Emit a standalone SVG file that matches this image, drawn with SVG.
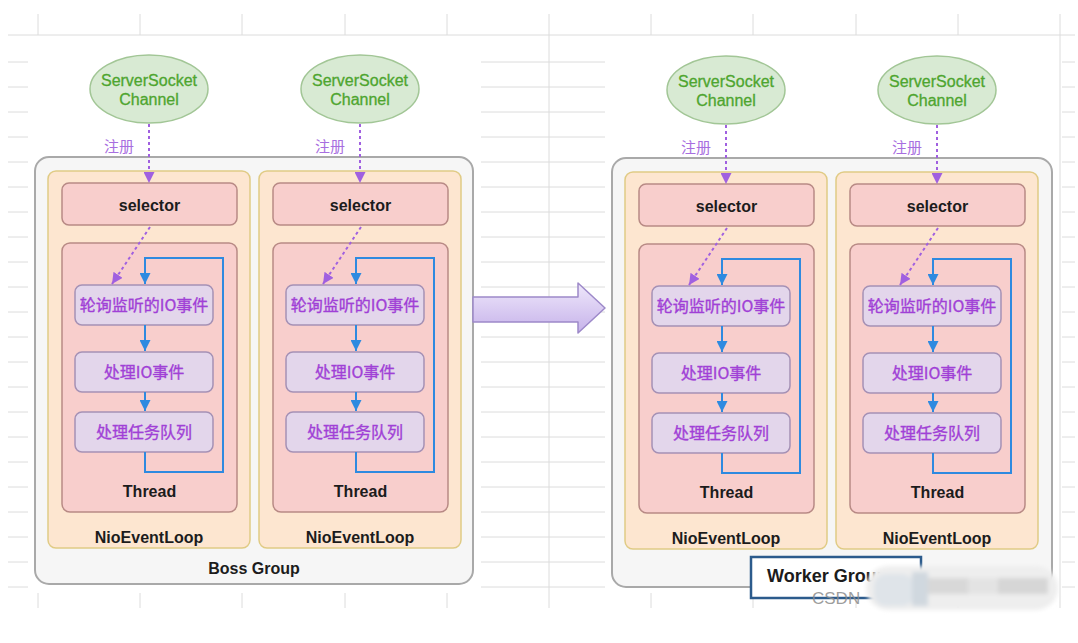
<svg xmlns="http://www.w3.org/2000/svg" width="1078" height="643" viewBox="0 0 1078 643">
<defs>
<style>
.grid{stroke:#dcdcdc;stroke-width:1;fill:none}
.grp{fill:#f6f6f6;stroke:#a9a9a9;stroke-width:2}
.nel{fill:#fde6d0;stroke:#e0cb85;stroke-width:1.5}
.red{fill:#f8cecc;stroke:#b88a85;stroke-width:1.5}
.pur{fill:#e3d6eb;stroke:#a591b5;stroke-width:1.5}
.ell{fill:#d8ead3;stroke:#a2c696;stroke-width:1.5}
.tg{font-family:"Liberation Sans",Arial,sans-serif;font-size:16px;fill:#4ea52f;stroke:#4ea52f;stroke-width:0.3;text-anchor:middle}
.tb{font-family:"Liberation Sans",Arial,sans-serif;font-size:16px;font-weight:bold;fill:#1c1c1c;text-anchor:middle}
.tp{font-family:"Noto Sans CJK SC",sans-serif;font-size:16px;fill:#a040d6;stroke:#a040d6;stroke-width:0.35;text-anchor:middle}
.tr{font-family:"Noto Sans CJK SC",sans-serif;font-size:15px;fill:#a86ee0;text-anchor:middle}
.blue{stroke:#2e8ae0;stroke-width:2;fill:none}
.dash{stroke:#a060e0;stroke-width:2;stroke-dasharray:3 3;fill:none}
</style>
<marker id="ab" viewBox="0 0 10 10" refX="10" refY="5" markerWidth="11" markerHeight="11" markerUnits="userSpaceOnUse" orient="auto">
<path d="M0,0 L10,5 L0,10 z" fill="#2e8ae0"/>
</marker>
<marker id="ap" viewBox="0 0 10 10" refX="10" refY="5" markerWidth="11" markerHeight="11" markerUnits="userSpaceOnUse" orient="auto">
<path d="M0,0 L10,5 L0,10 z" fill="#a060e0"/>
</marker>
<linearGradient id="arrowGrad" x1="0" y1="0" x2="0" y2="1">
<stop offset="0" stop-color="#efe8fb"/>
<stop offset="1" stop-color="#c6b2ea"/>
</linearGradient>
<filter id="blur" x="-10%" y="-30%" width="120%" height="160%">
<feGaussianBlur stdDeviation="2"/>
</filter>
</defs>

<rect x="0" y="0" width="1078" height="643" fill="#ffffff"/>

<g id="grid" class="grid">
<path d="M8,35H1075"/>
<path d="M38,14V35M140,14V35M242,14V35M345,14V35M447,14V35M651,14V35M753,14V35M856,14V35M958,14V35"/>
<path d="M549,14V608M1060,14V608"/>
<path d="M38,593V608M140,593V608M242,593V608M345,593V608M447,593V608M651,593V608M753,593V608M856,593V608M958,593V608"/>
<path d="M8,62h20M8,87h20M8,112h20M8,137h20M8,162h20M8,187h20M8,212h20M8,237h20M8,262h20M8,287h20M8,312h20M8,337h20M8,362h20M8,387h20M8,412h20M8,437h20M8,462h20M8,487h20M8,512h20M8,537h20M8,562h20M8,587h20"/>
<path d="M481,62H605M481,87H605M481,112H605M481,137H605M481,162H605M481,187H605M481,212H605M481,237H605M481,262H605M481,287H605M481,312H605M481,337H605M481,362H605M481,387H605M481,412H605M481,437H605M481,462H605M481,487H605M481,512H605M481,537H605M481,562H605M481,587H605"/>
<path d="M1062,62h13M1062,87h13M1062,112h13M1062,137h13M1062,162h13M1062,187h13M1062,212h13M1062,237h13M1062,262h13M1062,287h13M1062,312h13M1062,337h13M1062,362h13M1062,387h13M1062,412h13M1062,437h13M1062,462h13M1062,487h13M1062,512h13M1062,537h13M1062,562h13M1062,587h13"/>
</g>

<g id="boss-group">
<rect x="35" y="157" width="438" height="427" rx="14" class="grp"/>
<text class="tb" x="254" y="574">Boss Group</text>
</g>

<g id="worker-group">
<rect x="612" y="158" width="440" height="429" rx="14" class="grp"/>
</g>

<!-- Boss column 1 -->
<g transform="translate(0,0)">
<g id="boss1-channel"><ellipse cx="149" cy="89" rx="59" ry="34" class="ell"/><text class="tg" x="149" y="86">ServerSocket</text><text class="tg" x="149" y="105">Channel</text></g>
<g id="boss1-nioeventloop"><rect x="48" y="171" width="202" height="377" rx="8" class="nel"/><text class="tb" x="149" y="543">NioEventLoop</text></g>
<g id="boss1-selector"><rect x="62" y="183" width="175" height="42" rx="7" class="red"/><text class="tb" x="149.5" y="211">selector</text></g>
<g id="boss1-thread"><rect x="62" y="243" width="175" height="269" rx="8" class="red"/><text class="tb" x="149.5" y="497">Thread</text></g>
<g id="boss1-poll"><rect x="75" y="285" width="138" height="40" rx="7" class="pur"/><text class="tp" x="144" y="311">轮询监听的IO事件</text></g>
<g id="boss1-handle-io"><rect x="75" y="352" width="138" height="40" rx="7" class="pur"/><text class="tp" x="144" y="378">处理IO事件</text></g>
<g id="boss1-tasks"><rect x="75" y="412" width="138" height="40" rx="7" class="pur"/><text class="tp" x="144" y="438">处理任务队列</text></g>
</g>

<!-- Boss column 2 -->
<g transform="translate(211,0)">
<g id="boss2-channel"><ellipse cx="149" cy="89" rx="59" ry="34" class="ell"/><text class="tg" x="149" y="86">ServerSocket</text><text class="tg" x="149" y="105">Channel</text></g>
<g id="boss2-nioeventloop"><rect x="48" y="171" width="202" height="377" rx="8" class="nel"/><text class="tb" x="149" y="543">NioEventLoop</text></g>
<g id="boss2-selector"><rect x="62" y="183" width="175" height="42" rx="7" class="red"/><text class="tb" x="149.5" y="211">selector</text></g>
<g id="boss2-thread"><rect x="62" y="243" width="175" height="269" rx="8" class="red"/><text class="tb" x="149.5" y="497">Thread</text></g>
<g id="boss2-poll"><rect x="75" y="285" width="138" height="40" rx="7" class="pur"/><text class="tp" x="144" y="311">轮询监听的IO事件</text></g>
<g id="boss2-handle-io"><rect x="75" y="352" width="138" height="40" rx="7" class="pur"/><text class="tp" x="144" y="378">处理IO事件</text></g>
<g id="boss2-tasks"><rect x="75" y="412" width="138" height="40" rx="7" class="pur"/><text class="tp" x="144" y="438">处理任务队列</text></g>
</g>

<!-- Worker column 1 -->
<g transform="translate(577,1)">
<g id="worker1-channel"><ellipse cx="149" cy="89" rx="59" ry="34" class="ell"/><text class="tg" x="149" y="86">ServerSocket</text><text class="tg" x="149" y="105">Channel</text></g>
<g id="worker1-nioeventloop"><rect x="48" y="171" width="202" height="377" rx="8" class="nel"/><text class="tb" x="149" y="543">NioEventLoop</text></g>
<g id="worker1-selector"><rect x="62" y="183" width="175" height="42" rx="7" class="red"/><text class="tb" x="149.5" y="211">selector</text></g>
<g id="worker1-thread"><rect x="62" y="243" width="175" height="269" rx="8" class="red"/><text class="tb" x="149.5" y="497">Thread</text></g>
<g id="worker1-poll"><rect x="75" y="285" width="138" height="40" rx="7" class="pur"/><text class="tp" x="144" y="311">轮询监听的IO事件</text></g>
<g id="worker1-handle-io"><rect x="75" y="352" width="138" height="40" rx="7" class="pur"/><text class="tp" x="144" y="378">处理IO事件</text></g>
<g id="worker1-tasks"><rect x="75" y="412" width="138" height="40" rx="7" class="pur"/><text class="tp" x="144" y="438">处理任务队列</text></g>
</g>

<!-- Worker column 2 -->
<g transform="translate(788,1)">
<g id="worker2-channel"><ellipse cx="149" cy="89" rx="59" ry="34" class="ell"/><text class="tg" x="149" y="86">ServerSocket</text><text class="tg" x="149" y="105">Channel</text></g>
<g id="worker2-nioeventloop"><rect x="48" y="171" width="202" height="377" rx="8" class="nel"/><text class="tb" x="149" y="543">NioEventLoop</text></g>
<g id="worker2-selector"><rect x="62" y="183" width="175" height="42" rx="7" class="red"/><text class="tb" x="149.5" y="211">selector</text></g>
<g id="worker2-thread"><rect x="62" y="243" width="175" height="269" rx="8" class="red"/><text class="tb" x="149.5" y="497">Thread</text></g>
<g id="worker2-poll"><rect x="75" y="285" width="138" height="40" rx="7" class="pur"/><text class="tp" x="144" y="311">轮询监听的IO事件</text></g>
<g id="worker2-handle-io"><rect x="75" y="352" width="138" height="40" rx="7" class="pur"/><text class="tp" x="144" y="378">处理IO事件</text></g>
<g id="worker2-tasks"><rect x="75" y="412" width="138" height="40" rx="7" class="pur"/><text class="tp" x="144" y="438">处理任务队列</text></g>
</g>

<g id="connectors">
<g transform="translate(0,0)">
<text class="tr" x="119" y="152">注册</text>
<path class="dash" d="M149,124V183" marker-end="url(#ap)"/>
<path class="dash" d="M150,227L112,284" marker-end="url(#ap)"/>
<path class="blue" d="M145,325V351" marker-end="url(#ab)"/>
<path class="blue" d="M145,392V411" marker-end="url(#ab)"/>
<path class="blue" d="M145,452V472H223V258H145V284" marker-end="url(#ab)"/>
</g>
<g transform="translate(211,0)">
<text class="tr" x="119" y="152">注册</text>
<path class="dash" d="M149,124V183" marker-end="url(#ap)"/>
<path class="dash" d="M150,227L112,284" marker-end="url(#ap)"/>
<path class="blue" d="M145,325V351" marker-end="url(#ab)"/>
<path class="blue" d="M145,392V411" marker-end="url(#ab)"/>
<path class="blue" d="M145,452V472H223V258H145V284" marker-end="url(#ab)"/>
</g>
<g transform="translate(577,1)">
<text class="tr" x="119" y="152">注册</text>
<path class="dash" d="M149,124V183" marker-end="url(#ap)"/>
<path class="dash" d="M150,227L112,284" marker-end="url(#ap)"/>
<path class="blue" d="M145,325V351" marker-end="url(#ab)"/>
<path class="blue" d="M145,392V411" marker-end="url(#ab)"/>
<path class="blue" d="M145,452V472H223V258H145V284" marker-end="url(#ab)"/>
</g>
<g transform="translate(788,1)">
<text class="tr" x="119" y="152">注册</text>
<path class="dash" d="M149,124V183" marker-end="url(#ap)"/>
<path class="dash" d="M150,227L112,284" marker-end="url(#ap)"/>
<path class="blue" d="M145,325V351" marker-end="url(#ab)"/>
<path class="blue" d="M145,392V411" marker-end="url(#ab)"/>
<path class="blue" d="M145,452V472H223V258H145V284" marker-end="url(#ab)"/>
</g>
<g id="transition-arrow">
<path d="M473,297H578V283L605,308L578,333V322H473Z" fill="url(#arrowGrad)" stroke="#9d89c9" stroke-width="1.5" stroke-linejoin="round"/>
</g>
</g>

<g id="worker-group-label">
<rect x="751" y="557" width="170" height="41" fill="#ffffff" stroke="#2c5b8c" stroke-width="2.5"/>
<text x="767" y="582" font-family="Liberation Sans, Arial, sans-serif" font-size="18" font-weight="bold" fill="#1c1c1c">Worker Group</text>
</g>

<g id="watermark">
<text x="812" y="604" font-family="Liberation Sans, Arial, sans-serif" font-size="17" fill="#8c8c8c" fill-opacity="0.85">CSDN</text>
<g filter="url(#blur)">
<rect x="866" y="566" width="192" height="44" rx="22" fill="#eeeeee"/>
<rect x="874" y="574" width="40" height="32" rx="12" fill="#dfe4e9"/>
<rect x="912" y="572" width="16" height="34" fill="#d0d8df"/>
<rect x="928" y="578" width="40" height="16" fill="#d8d8d8"/>
<rect x="968" y="578" width="30" height="16" fill="#e3e3e3"/>
<rect x="998" y="578" width="50" height="16" fill="#d6d6d6"/>
</g>
</g>
</svg>
